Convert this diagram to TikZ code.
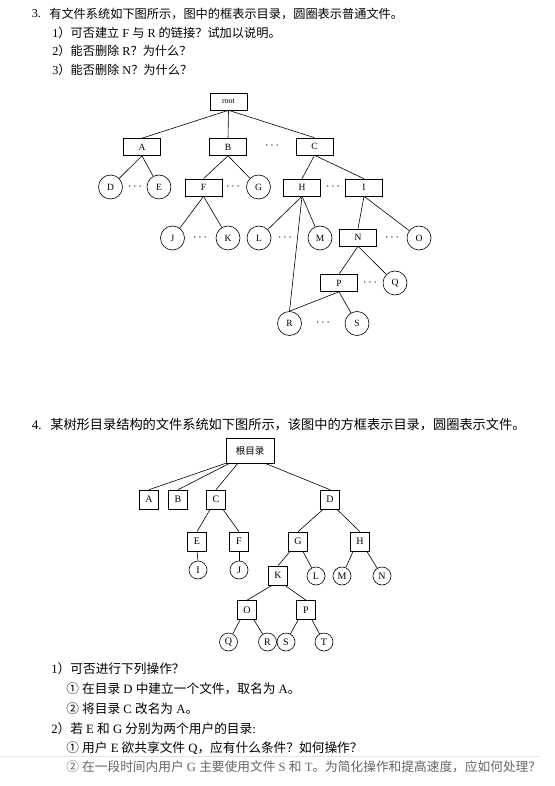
\documentclass[tikz,border=0pt]{standalone}
\usepackage{fontspec}
\setmainfont{Liberation Serif}
\newfontfamily\cjk{Noto Sans CJK SC}
\usetikzlibrary{calc}
\newcommand{\zh}[1]{{\cjk #1}}
\newcommand{\fromfrac}[3]{\draw ($(#1.south west)!#2!(#1.south east)$) -- (#3);}
\begin{document}
\begin{tikzpicture}[x=1pt,y=-1pt,
  line width=0.6pt,
  dirbox/.style={draw, minimum width=37pt, minimum height=17pt, inner sep=0pt, font=\fontsize{9.5}{10}\selectfont},
  filecirc/.style={draw, circle, minimum size=24pt, inner sep=0pt, font=\fontsize{9.5}{10}\selectfont},
  dotlbl/.style={inner sep=0pt, font=\fontsize{12}{12}\selectfont},
  sdir/.style={draw, minimum size=19pt, inner sep=0pt, font=\fontsize{10}{10}\selectfont},
  sfile/.style={draw, circle, minimum size=18pt, inner sep=0pt, font=\fontsize{10}{10}\selectfont},
  txtA/.style={anchor=west, inner sep=0pt, font=\fontsize{12.2}{14}\selectfont},
  txtB/.style={anchor=west, inner sep=0pt, font=\fontsize{13.2}{15}\selectfont},
  txtC/.style={anchor=west, inner sep=0pt, font=\fontsize{12.7}{15}\selectfont},
]
\fill[white] (0,0) rectangle (554,786);
\useasboundingbox (0,0) rectangle (554,786);

% ---------- Section 3 text ----------
\node[txtA] (n3) at (31.5,14) {3.};
\node[txtA] (t30) at (49,14) {\zh{有文件系统如下图所示，图中的框表示目录，圆圈表示普通文件。}};
\node[txtA] (t31) at (52,32.5) {1\zh{）可否建立}~F~\zh{与}~R~\zh{的链接？试加以说明。}};
\node[txtA] (t32) at (52,51) {2\zh{）能否删除}~R\zh{？为什么？}};
\node[txtA] (t33) at (52,69.5) {3\zh{）能否删除}~N\zh{？为什么？}};

% ---------- Tree 1 ----------
\node[dirbox, font=\fontsize{8}{9}\selectfont] (root) at (228.5,101.5) {root};
\node[dirbox] (A) at (142,147) {A};
\node[dirbox] (B) at (228,147) {B};
\node[dirbox] (C) at (314.5,146.5) {C};
\node[filecirc] (D) at (110.5,187) {D};
\node[filecirc] (E) at (159,187) {E};
\node[dirbox] (F) at (203.5,187.5) {F};
\node[filecirc] (G) at (258.5,187) {G};
\node[dirbox] (H) at (302,187.5) {H};
\node[dirbox] (I) at (364,187.5) {I};
\node[filecirc] (J) at (172.5,238) {J};
\node[filecirc] (K) at (228,238) {K};
\node[filecirc] (L) at (259,238) {L};
\node[filecirc] (M) at (320,238) {M};
\node[dirbox] (N) at (358,237.5) {N};
\node[filecirc] (O) at (419,238) {O};
\node[dirbox] (P) at (339,283) {P};
\node[filecirc] (Q) at (395,283) {Q};
\node[filecirc] (R) at (289.5,323.5) {R};
\node[filecirc] (S) at (357,323.5) {S};

\node[dotlbl] (d1) at (272,146) {$\cdots$};
\node[dotlbl] (d2) at (135,187) {$\cdots$};
\node[dotlbl] (d3) at (233,187) {$\cdots$};
\node[dotlbl] (d4) at (333,187) {$\cdots$};
\node[dotlbl] (d5) at (200,238) {$\cdots$};
\node[dotlbl] (d6) at (285,238) {$\cdots$};
\node[dotlbl] (d7) at (392,238) {$\cdots$};
\node[dotlbl] (d8) at (370,283) {$\cdots$};
\node[dotlbl] (d9) at (323,323) {$\cdots$};

\draw (root.south) -- (A.north);
\draw (root.south) -- (B.north);
\draw (root.south) -- (C.north);
\draw (A.south) -- (D);
\draw (A.south) -- (E);
\draw (B.south) -- (F.north);
\draw (B.south) -- (G);
\draw (C.south) -- (H.north);
\draw (C.south) -- (I.north);
\draw (F.south) -- (J);
\draw (F.south) -- (K);
\draw (H.south) -- (L);
\draw (H.south) -- (M);
\draw (H.south) -- (R.north);
\draw (I.south) -- (N.north);
\draw (I.south) -- (O);
\draw (N.south) -- (P.north);
\draw (N.south) -- (Q);
\draw (P.south) -- (R.north);
\draw (P.south) -- (S);

% ---------- Section 4 text ----------
\node[txtB] (n4) at (31.5,425) {4.};
\node[txtB] (t40) at (50,425) {\zh{某树形目录结构的文件系统如下图所示，该图中的方框表示目录，圆圈表示文件。}};

% ---------- Tree 2 ----------
\node[draw, minimum width=48pt, minimum height=25pt, inner sep=0pt, font=\cjk\fontsize{9.5}{10}\selectfont] (r2) at (250,450.5) {根目录};
\node[sdir] (A2) at (149,499.5) {A};
\node[sdir] (B2) at (178,499.5) {B};
\node[sdir] (C2) at (216,499.5) {C};
\node[sdir] (D2) at (330,499.5) {D};
\node[sdir] (E2) at (197,541.5) {E};
\node[sdir] (F2) at (239,541.5) {F};
\node[sdir] (G2) at (298,541.5) {G};
\node[sdir] (H2) at (360,541.5) {H};
\node[sfile] (I2) at (198,570) {I};
\node[sfile] (J2) at (239,570) {J};
\node[sdir] (K2) at (278,575.5) {K};
\node[sfile] (L2) at (316,576) {L};
\node[sfile] (M2) at (342,576) {M};
\node[sfile] (N2) at (382,576) {N};
\node[sdir] (O2) at (247,610) {O};
\node[sdir] (P2) at (306,610) {P};
\node[sfile] (Q2) at (228.5,642) {Q};
\node[sfile] (R2) at (267.5,642) {R};
\node[sfile] (S2) at (286,642) {S};
\node[sfile] (T2) at (324,642) {T};

\fromfrac{r2}{0}{A2.north}
\fromfrac{r2}{0.08}{B2.north}
\fromfrac{r2}{0.25}{C2.north}
\fromfrac{r2}{0.81}{D2.north}
\fromfrac{C2}{0.2}{E2.north}
\fromfrac{C2}{0.85}{F2.north}
\fromfrac{D2}{0.15}{G2.north}
\fromfrac{D2}{0.85}{H2.north}
\draw (E2.south) -- (I2.north);
\draw (F2.south) -- (J2.north);
\fromfrac{G2}{0.1}{K2.north}
\fromfrac{G2}{0.75}{L2}
\fromfrac{H2}{0.15}{M2}
\fromfrac{H2}{0.85}{N2}
\fromfrac{K2}{0.2}{O2.north}
\fromfrac{K2}{0.85}{P2.north}
\fromfrac{O2}{0.15}{Q2}
\fromfrac{O2}{0.85}{R2}
\fromfrac{P2}{0.1}{S2}
\fromfrac{P2}{0.8}{T2}

% ---------- Bottom text ----------
\node[txtC] (t41) at (51,669) {1\zh{）可否进行下列操作？}};
\node[txtC] (t42) at (66,689) {\zh{①}~\zh{在目录}~D~\zh{中建立一个文件，取名为}~A\zh{。}};
\node[txtC] (t43) at (66,709) {\zh{②}~\zh{将目录}~C~\zh{改名为}~A\zh{。}};
\node[txtC] (t44) at (51,729) {2\zh{）若}~E~\zh{和}~G~\zh{分别为两个用户的目录}:};
\node[txtC] (t45) at (66,748) {\zh{①}~\zh{用户}~E~\zh{欲共享文件}~Q\zh{，应有什么条件？如何操作？}};
\draw[black!10, line width=0.8pt] (0,756) -- (540,756);
\node[txtC, text=black!60] (t46) at (66,767) {\zh{②}~\zh{在一段时间内用户}~G~\zh{主要使用文件}~S~\zh{和}~T\zh{。为简化操作和提高速度，应如何处理？}};
\end{tikzpicture}
\end{document}
